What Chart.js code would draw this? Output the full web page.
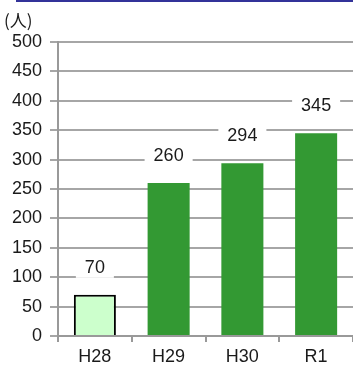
<!DOCTYPE html>
<html lang="ja">
<head>
    <meta charset="UTF-8">
    <title>人数の推移</title>
    <script src="https://cdn.jsdelivr.net/npm/chart.js"></script>
    <style>
        body {
            margin: 0;
            padding: 0;
            background-color: #fff;
        }
        #wrap {
            width: 353px;
            height: 369px;
        }
    </style>
</head>
<body>
<div id="wrap">
    <canvas id="grafico" width="353" height="369"></canvas>
</div>

<script>
    // datos del gráfico
    const categorias = ['H28', 'H29', 'H30', 'R1'];
    const valores = [70, 260, 294, 345];
    const coloresBarra = ['#ccffcc', '#339933', '#339933', '#339933'];
    const bordesBarra = ['#000000', '#339933', '#339933', '#339933'];
    const anchoBorde = [2, 0, 0, 0];
    const unidad = '(人)';

    const fuente = "'Liberation Sans', Arial, sans-serif";

    // etiquetas de valor encima de cada barra, con fondo blanco
    const etiquetas = {
        id: 'etiquetas',
        afterDatasetsDraw(chart) {
            const ctx = chart.ctx;
            const meta = chart.getDatasetMeta(0);
            ctx.save();
            ctx.font = '18px ' + fuente;
            ctx.textAlign = 'center';
            ctx.textBaseline = 'middle';
            meta.data.forEach((barra, i) => {
                const texto = String(valores[i]);
                const y = barra.y - 27;
                const w = ctx.measureText(texto).width + 18;
                ctx.fillStyle = '#fff';
                ctx.fillRect(barra.x - w / 2, y - 10, w, 20);
                ctx.fillStyle = '#1a1a1a';
                ctx.fillText(texto, barra.x, y);
            });
            ctx.restore();
        },
        afterDraw(chart) {
            const ctx = chart.ctx;
            ctx.save();
            // línea azul superior
            ctx.fillStyle = '#333399';
            ctx.fillRect(16, 0, chart.width - 16, 2);
            // unidad
            ctx.fillStyle = '#1a1a1a';
            ctx.font = "17px 'Noto Sans CJK JP', sans-serif";
            ctx.textBaseline = 'middle';
            ctx.fillText(unidad, 4, 21);
            ctx.restore();
        }
    };

    const ctx = document.getElementById('grafico').getContext('2d');
    new Chart(ctx, {
        type: 'bar',
        data: {
            labels: categorias,
            datasets: [{
                data: valores,
                backgroundColor: coloresBarra,
                borderColor: bordesBarra,
                borderWidth: anchoBorde,
                barPercentage: 0.57,
                categoryPercentage: 1
            }]
        },
        options: {
            responsive: false,
            animation: false,
            events: [],
            layout: {
                padding: { top: 42, right: 0, bottom: 0, left: 0 }
            },
            plugins: {
                legend: { display: false },
                tooltip: { enabled: false }
            },
            scales: {
                x: {
                    afterFit(scale) {
                        scale.height = 33;
                    },
                    grid: {
                        display: true,
                        drawOnChartArea: false,
                        drawTicks: true,
                        tickLength: 6,
                        color: '#999',
                        lineWidth: 2
                    },
                    border: { color: '#999', width: 2 },
                    ticks: {
                        color: '#1a1a1a',
                        font: { size: 18, family: fuente },
                        padding: 4
                    }
                },
                y: {
                    min: 0,
                    max: 500,
                    afterFit(scale) {
                        scale.width = 58;
                    },
                    grid: {
                        color: '#a6a6a6',
                        lineWidth: 2,
                        tickLength: 8
                    },
                    border: { color: '#999', width: 2 },
                    ticks: {
                        stepSize: 50,
                        color: '#1a1a1a',
                        font: { size: 18, family: fuente },
                        padding: 8
                    }
                }
            }
        },
        plugins: [etiquetas]
    });
</script>
</body>
</html>
